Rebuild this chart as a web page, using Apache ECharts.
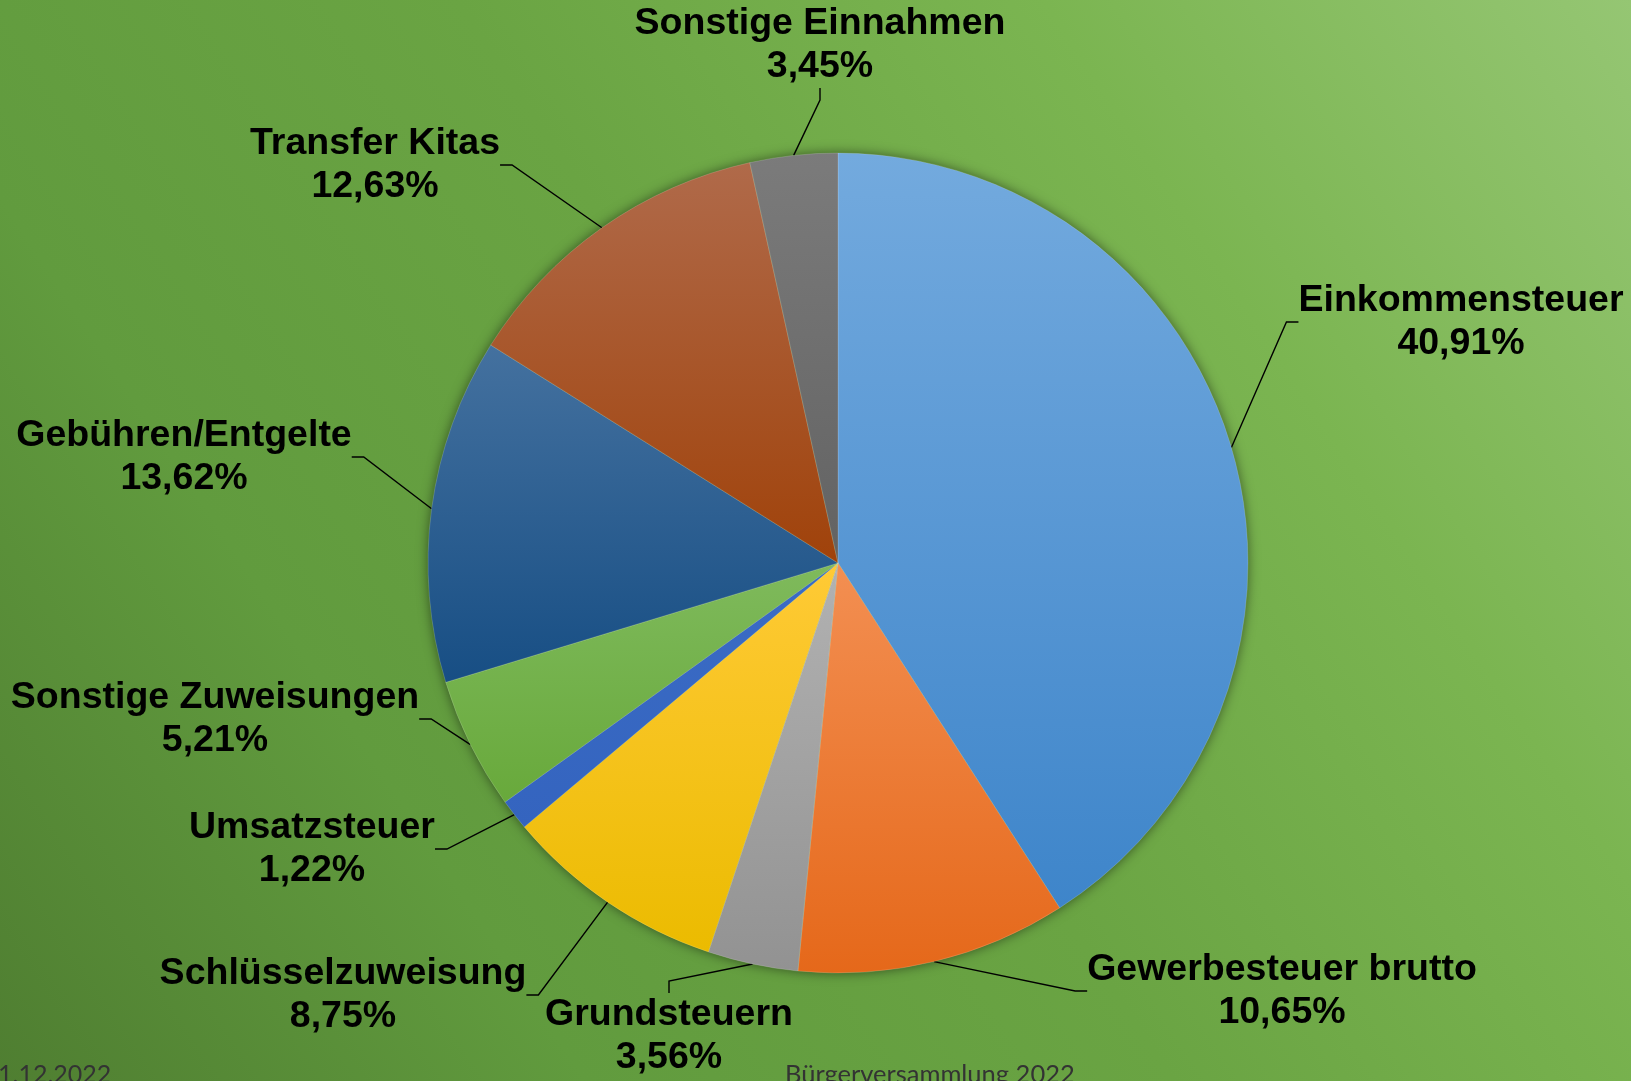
<!DOCTYPE html>
<html>
<head>
<meta charset="utf-8">
<title>Einnahmen</title>
<script src="https://cdn.jsdelivr.net/npm/echarts@6/dist/echarts.min.js"></script>
<style>
  html, body { margin: 0; padding: 0; }
  #chart { width: 1631px; height: 1081px; }
</style>
</head>
<body>
<div id="chart"></div>
<script>
// Anteile in Prozent, im Uhrzeigersinn ab 12 Uhr
var categories = ['Einkommensteuer', 'Gewerbesteuer brutto', 'Grundsteuern', 'Schlüsselzuweisung',
  'Umsatzsteuer', 'Sonstige Zuweisungen', 'Gebühren/Entgelte', 'Transfer Kitas', 'Sonstige Einnahmen'];
var shares = [40.91, 10.65, 3.56, 8.75, 1.22, 5.21, 13.62, 12.63, 3.45];

// Farbverlauf je Segment (oben, unten)
var sliceColors = [
  ['#73aade', '#3e85ca'],
  ['#f38f52', '#e5681a'],
  ['#b2b2b2', '#929292'],
  ['#ffca36', '#ebbb00'],
  ['#3b6cc5', '#3464bf'],
  ['#7fba5c', '#68a93b'],
  ['#44719f', '#174e84'],
  ['#b06a4a', '#a0420a'],
  ['#7b7b7b', '#626262']
];

// Mittelpunkt der Beschriftungen
var labelCenters = [
  [1461, 322], [1282, 991], [669, 1036], [343, 995], [312, 849],
  [215, 719], [184, 457], [375, 165], [820, 45]
];

var chart = echarts.init(document.getElementById('chart'));

var pieData = categories.map(function (name, i) {
  return {
    name: name,
    value: shares[i],
    itemStyle: {
      color: new echarts.graphic.LinearGradient(0, 0, 0, 1, [
        {offset: 0, color: sliceColors[i][0]},
        {offset: 1, color: sliceColors[i][1]}
      ])
    }
  };
});

var option = {
  backgroundColor: new echarts.graphic.LinearGradient(1, 0, 0, 1, [
    {offset: 0, color: '#95c673'},
    {offset: 0.25, color: '#7bb551'},
    {offset: 0.5, color: '#6aa443'},
    {offset: 0.75, color: '#619b3e'},
    {offset: 1, color: '#4f7e31'}
  ]),
  animation: false,
  graphic: [
    {
      type: 'text', left: -2, top: 1062,
      style: {text: '1.12.2022', font: '25px Lato', fill: '#333'}
    },
    {
      type: 'text', left: 785, top: 1062,
      style: {text: 'Bürgerversammlung 2022', font: '25.5px Lato', fill: '#333'}
    }
  ],
  series: [
    {
      // Schatten unter dem Kreis
      type: 'pie',
      silent: true,
      center: [838, 563],
      radius: 410,
      label: {show: false},
      labelLine: {show: false},
      itemStyle: {
        color: '#5c913b',
        shadowBlur: 12,
        shadowColor: 'rgba(0,0,0,0.5)'
      },
      data: [{value: 1, name: ''}],
      z: 1
    },
    {
      type: 'pie',
      center: [838, 563],
      radius: 410,
      startAngle: 90,
      clockwise: true,
      z: 2,
      itemStyle: {
        borderColor: 'rgba(255,255,255,0.25)',
        borderWidth: 0.6
      },
      label: {
        show: true,
        position: 'outside',
        color: '#000',
        fontFamily: 'Liberation Sans',
        fontWeight: 'bold',
        fontSize: 37.5,
        lineHeight: 43,
        align: 'center',
        formatter: function (p) {
          return p.name + '\n' + p.percent.toFixed(2).replace('.', ',') + '%';
        }
      },
      labelLine: {
        show: true,
        length: 20,
        length2: 12,
        minTurnAngle: 0,
        maxSurfaceAngle: 180,
        lineStyle: {color: '#000', width: 1.4}
      },
      labelLayout: function (params) {
        var c = labelCenters[params.dataIndex];
        return {x: c[0], y: c[1], align: 'center', verticalAlign: 'middle'};
      },
      emphasis: {disabled: true},
      data: pieData
    }
  ]
};

chart.setOption(option);
</script>
</body>
</html>
